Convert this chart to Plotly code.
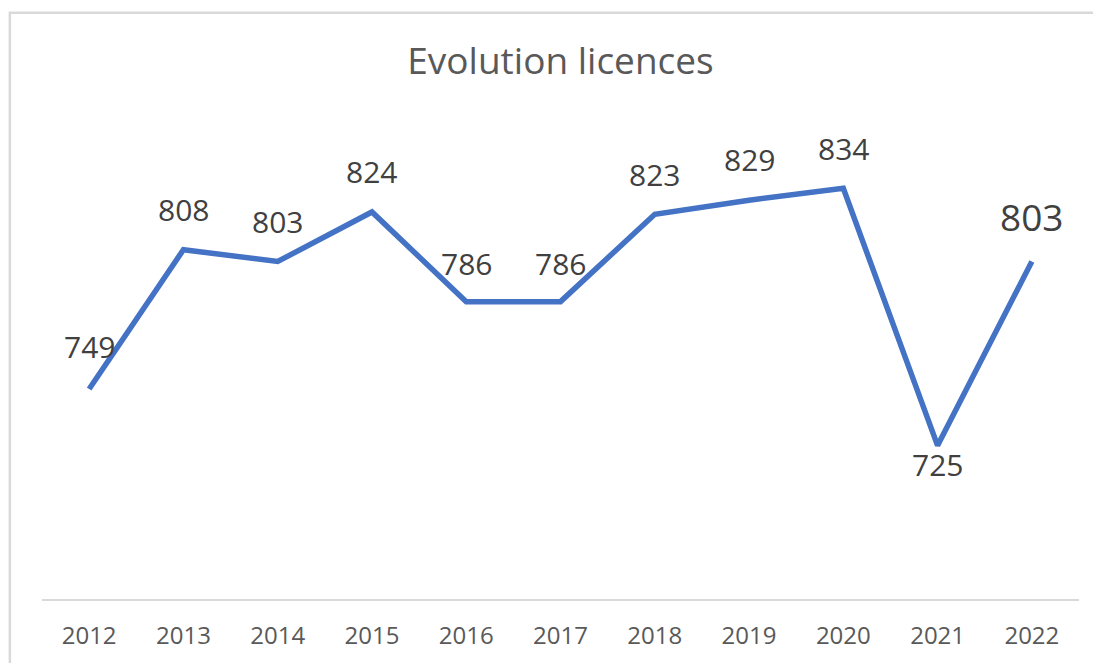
import plotly.graph_objects as go

# données
annees = [2012, 2013, 2014, 2015, 2016, 2017, 2018, 2019, 2020, 2021, 2022]
licences = [749, 808, 803, 824, 786, 786, 823, 829, 834, 725, 803]

# décalage vertical des étiquettes (au-dessus, sauf 2021 en dessous)
decalage = [42, 40, 40, 40, 38, 38, 40, 41, 40, -19, 45]
taille = [30, 30, 30, 30, 30, 30, 30, 30, 30, 30, 37]

police = "Open Sans"

fig = go.Figure()
fig.add_trace(go.Scatter(x=annees, y=licences, mode="lines",
                         line=dict(color="#4472C4", width=5.5),
                         hoverinfo="x+y", showlegend=False))

for a, v, d, t in zip(annees, licences, decalage, taille):
    fig.add_annotation(x=a, y=v, text=str(v), showarrow=False, yshift=d,
                       font=dict(family=police, size=t, color="#404040"))

# cadre gris clair autour du graphique (Excel)
fig.add_shape(type="rect", xref="paper", yref="paper",
              x0=-0.031, x1=1.05, y0=-0.3, y1=1.242,
              line=dict(color="#d9d9d9", width=2.5), layer="below")

# la page html ajoute 8px de marge -> figure un peu plus petite
fig.update_layout(
    title=dict(text="Evolution licences", x=0.5, xref="paper", xanchor="center",
               y=0.919, yref="container", yanchor="middle",
               font=dict(family=police, size=37, color="#595959")),
    width=1085, height=655,
    margin=dict(l=34, r=14, t=119, b=57),
    plot_bgcolor="white", paper_bgcolor="white",
    xaxis=dict(range=[2011.5, 2022.5], tickvals=annees, ticktext=[str(a) for a in annees],
               showgrid=False, zeroline=False, showline=True, linecolor="#d9d9d9",
               linewidth=2, ticks="", ticklabelstandoff=14,
               tickfont=dict(family=police, size=24, color="#595959")),
    yaxis=dict(range=[660, 860], visible=False, showgrid=False, zeroline=False),
)

fig.write_html("out.html")
